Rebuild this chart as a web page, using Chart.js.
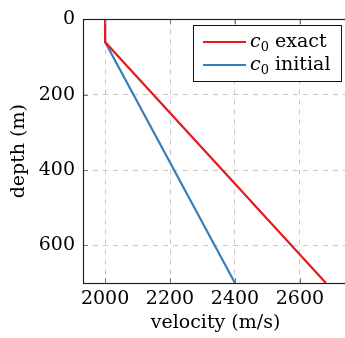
<!DOCTYPE html>
<html>
<head>
<meta charset="utf-8">
<script src="https://cdn.jsdelivr.net/npm/chart.js@4"></script>
<style>
  html, body { margin: 0; padding: 0; background: #fff; overflow: hidden; }
  #wrap { width: 345px; height: 338px; overflow: hidden; }
</style>
</head>
<body>
<div id="wrap"><canvas id="chart" width="350" height="338"></canvas></div>
<script>
// velocity profiles (depth in m, velocity in m/s)
var depths = [0, 60, 700];
var exactVel = [2000, 2000, 2680];
var initialVel = [2000, 2000, 2400];
var xTicks = [2000, 2200, 2400, 2600];
var yTicks = [0, 200, 400, 600];
var seriesNames = ['exact', 'initial'];

var FONT = '"DejaVu Serif", "Liberation Serif", serif';
var RED = '#e41a1c';
var BLUE = '#377eb8';

function toPoints(vel) {
    return depths.map(function(d, i) { return { x: vel[i], y: d }; });
}

// frame, inward tick marks and legend box
var framePlugin = {
    id: 'frame',
    afterDatasetsDraw: function(chart) {
        var ctx = chart.ctx;
        var a = chart.chartArea;
        var xs = chart.scales.x, ys = chart.scales.y;
        ctx.save();
        // tick marks pointing inward
        ctx.strokeStyle = '#777';
        ctx.lineWidth = 1;
        ctx.beginPath();
        xTicks.forEach(function(v) {
            var px = Math.round(xs.getPixelForValue(v)) + 0.5;
            ctx.moveTo(px, a.bottom); ctx.lineTo(px, a.bottom - 5);
            ctx.moveTo(px, a.top); ctx.lineTo(px, a.top + 5);
        });
        yTicks.forEach(function(v) {
            var py = Math.round(ys.getPixelForValue(v)) + 0.5;
            ctx.moveTo(a.left, py); ctx.lineTo(a.left + 5, py);
        });
        ctx.stroke();
        // frame
        ctx.strokeStyle = '#222';
        ctx.lineWidth = 1.2;
        ctx.strokeRect(Math.round(a.left) + 0.5, Math.round(a.top) + 0.5,
            Math.round(a.right - a.left) + 2, Math.round(a.bottom - a.top));
        ctx.restore();
    },
    afterDraw: function(chart) {
        var ctx = chart.ctx;
        var box = { x: 193.5, y: 25.5, w: 148, h: 56 };
        ctx.save();
        ctx.fillStyle = '#fff';
        ctx.fillRect(box.x, box.y, box.w, box.h);
        ctx.strokeStyle = '#111';
        ctx.lineWidth = 1;
        ctx.strokeRect(box.x, box.y, box.w, box.h);
        chart.data.datasets.forEach(function(ds, i) {
            var cy = 42 + i * 23;
            ctx.strokeStyle = ds.borderColor;
            ctx.lineWidth = 2.2;
            ctx.beginPath();
            ctx.moveTo(203, cy); ctx.lineTo(246, cy);
            ctx.stroke();
            var base = cy + 5;
            ctx.fillStyle = '#000';
            ctx.textBaseline = 'alphabetic';
            ctx.textAlign = 'left';
            ctx.font = 'italic 19px ' + FONT;
            ctx.fillText('c', 250, base);
            var cw = ctx.measureText('c').width;
            ctx.font = '13px ' + FONT;
            ctx.fillText('0', 250 + cw, base + 4);
            var zw = ctx.measureText('0').width;
            ctx.font = '19px ' + FONT;
            ctx.fillText(' ' + seriesNames[i], 250 + cw + zw, base);
        });
        ctx.restore();
    }
};

function plainLabel(value) { return String(value); }

new Chart(document.getElementById('chart'), {
    type: 'scatter',
    data: {
        datasets: [
            { label: 'c0 exact', data: toPoints(exactVel), borderColor: RED, backgroundColor: RED },
            { label: 'c0 initial', data: toPoints(initialVel), borderColor: BLUE, backgroundColor: BLUE }
        ]
    },
    options: {
        responsive: false,
        animation: false,
        devicePixelRatio: 1,
        showLine: true,
        layout: { padding: { top: 19, right: 2, left: 0, bottom: 0 } },
        elements: {
            point: { radius: 0, hoverRadius: 0 },
            line: { borderWidth: 2.2, tension: 0 }
        },
        plugins: {
            legend: { display: false },
            tooltip: { enabled: false }
        },
        scales: {
            x: {
                type: 'linear',
                min: 1932,
                max: 2748,
                afterBuildTicks: function(scale) {
                    scale.ticks = xTicks.map(function(v) { return { value: v }; });
                },
                afterFit: function(scale) { scale.height = 55; },
                grid: { color: '#c8c8c8', lineWidth: 1, drawTicks: false },
                border: { display: false, dash: [5, 5] },
                ticks: { font: { family: FONT, size: 19 }, color: '#000', padding: 5, maxRotation: 0, callback: plainLabel },
                title: { display: true, text: 'velocity (m/s)', font: { family: FONT, size: 19 }, color: '#000', padding: { top: 0, bottom: 4 } }
            },
            y: {
                type: 'linear',
                reverse: true,
                min: 0,
                max: 700,
                afterBuildTicks: function(scale) {
                    scale.ticks = yTicks.map(function(v) { return { value: v }; });
                },
                afterFit: function(scale) { scale.width = 83; },
                grid: { color: '#c8c8c8', lineWidth: 1, drawTicks: false },
                border: { display: false, dash: [5, 5] },
                ticks: { font: { family: FONT, size: 19 }, color: '#000', padding: 8, callback: plainLabel },
                title: { display: true, text: 'depth (m)', font: { family: FONT, size: 19 }, color: '#000', padding: { top: 8, bottom: 0 } }
            }
        }
    },
    plugins: [framePlugin]
});
</script>
</body>
</html>
